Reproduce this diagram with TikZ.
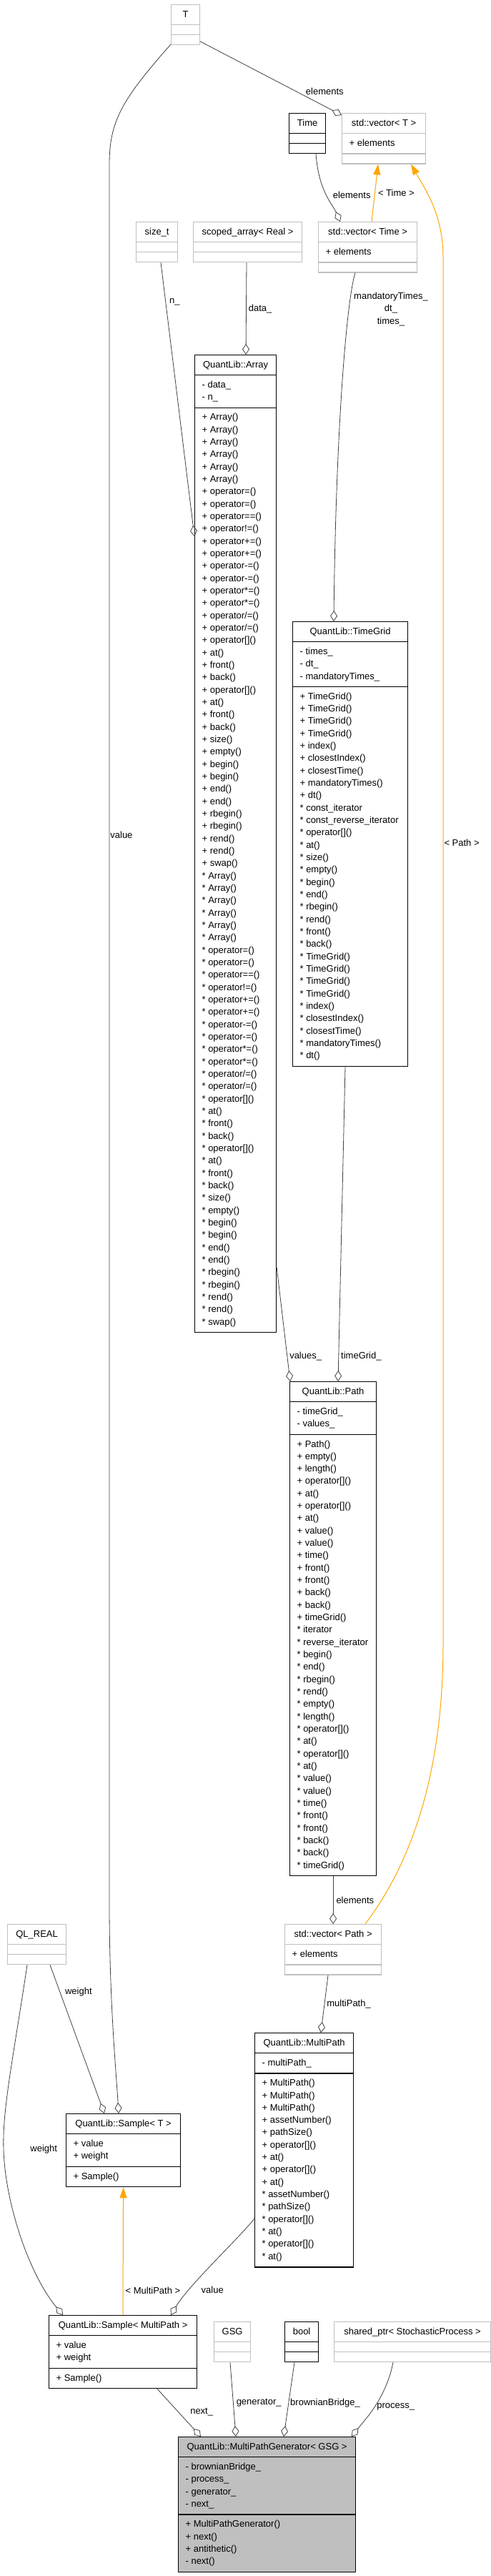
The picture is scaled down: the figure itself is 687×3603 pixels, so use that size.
\documentclass[tikz,border=0pt]{standalone}
\usepackage{fontspec}
\newfontfamily\dxfont{Liberation Sans}
\usetikzlibrary{positioning,calc,shapes.multipart,arrows.meta}
\definecolor{boxgray}{HTML}{BFBFBF}
\definecolor{linegray}{HTML}{404040}
\definecolor{genfill}{HTML}{BFBFBF}
\definecolor{tmplorange}{HTML}{FFA500}
\newcommand{\dxtext}{\dxfont\fontsize{13pt}{17.33pt}\selectfont}
\newcommand{\rows}[1]{\begin{tabular}{@{}l@{}}#1\end{tabular}}
\tikzset{
  cls/.style={rectangle split, rectangle split parts=3, draw, line width=1.2pt,
    rectangle split part align={center,left,left}, inner xsep=10pt, inner ysep=4.85pt,
    anchor=north west, font=\dxtext, minimum width=#1},
  ext/.style={cls=#1, draw=boxgray},
  doc/.style={cls=#1, draw=black},
  gen/.style={cls=#1, draw=black, fill=genfill},
  lbl/.style={font=\dxtext, inner sep=1pt, text=black},
  member/.style={draw=linegray, line width=0.8pt, -{Diamond[open,length=15pt,width=10pt]}},
  tmpl/.style={draw=tmplorange, line width=1pt, -{Triangle[length=15pt,width=10pt]}}
}

\begin{document}
\begin{tikzpicture}[x=1pt,y=-1pt]
    \useasboundingbox (0,0) rectangle (687,3603);
    % classes
    \node[ext=40pt] (T) at (239,6) {\rows{T}\nodepart{two}\rows{}\nodepart{three}\rows{}};
    \node[doc=51pt] (Time) at (404,158) {\rows{Time}\nodepart{two}\rows{}\nodepart{three}\rows{}};
    \node[ext=117pt] (vecT) at (478,158) {\rows{std::vector< T >}\nodepart{two}\rows{+ elements}\nodepart{three}\rows{}};
    \node[ext=58pt] (sizet) at (190,310) {\rows{size\_t}\nodepart{two}\rows{}\nodepart{three}\rows{}};
    \node[ext=152pt] (scoped) at (270,310) {\rows{scoped\_array< Real >}\nodepart{two}\rows{}\nodepart{three}\rows{}};
    \node[ext=138pt] (vecTime) at (445,310) {\rows{std::vector< Time >}\nodepart{two}\rows{+ elements}\nodepart{three}\rows{}};
    \node[doc=114pt] (array) at (272,496) {\rows{QuantLib::Array}\nodepart{two}\rows{- data\_\\- n\_}\nodepart{three}\rows{%
        + Array()\\+ Array()\\+ Array()\\+ Array()\\+ Array()\\+ Array()\\
        + operator=()\\+ operator=()\\+ operator==()\\+ operator!=()\\
        + operator+=()\\+ operator+=()\\+ operator-=()\\+ operator-=()\\
        + operator*=()\\+ operator*=()\\+ operator/=()\\+ operator/=()\\
        + operator[]()\\+ at()\\+ front()\\+ back()\\
        + operator[]()\\+ at()\\+ front()\\+ back()\\
        + size()\\+ empty()\\+ begin()\\+ begin()\\+ end()\\+ end()\\
        + rbegin()\\+ rbegin()\\+ rend()\\+ rend()\\+ swap()\\
        {}* Array()\\{}* Array()\\{}* Array()\\{}* Array()\\{}* Array()\\{}* Array()\\
        {}* operator=()\\{}* operator=()\\{}* operator==()\\{}* operator!=()\\
        {}* operator+=()\\{}* operator+=()\\{}* operator-=()\\{}* operator-=()\\
        {}* operator*=()\\{}* operator*=()\\{}* operator/=()\\{}* operator/=()\\
        {}* operator[]()\\{}* at()\\{}* front()\\{}* back()\\
        {}* operator[]()\\{}* at()\\{}* front()\\{}* back()\\
        {}* size()\\{}* empty()\\{}* begin()\\{}* begin()\\{}* end()\\{}* end()\\
        {}* rbegin()\\{}* rbegin()\\{}* rend()\\{}* rend()\\{}* swap()}};
    \node[doc=161pt] (timegrid) at (409,869) {\rows{QuantLib::TimeGrid}\nodepart{two}\rows{- times\_\\- dt\_\\- mandatoryTimes\_}\nodepart{three}\rows{%
        + TimeGrid()\\+ TimeGrid()\\+ TimeGrid()\\+ TimeGrid()\\
        + index()\\+ closestIndex()\\+ closestTime()\\+ mandatoryTimes()\\+ dt()\\
        {}* const\_iterator\\{}* const\_reverse\_iterator\\{}* operator[]()\\{}* at()\\
        {}* size()\\{}* empty()\\{}* begin()\\{}* end()\\{}* rbegin()\\{}* rend()\\
        {}* front()\\{}* back()\\
        {}* TimeGrid()\\{}* TimeGrid()\\{}* TimeGrid()\\{}* TimeGrid()\\
        {}* index()\\{}* closestIndex()\\{}* closestTime()\\{}* mandatoryTimes()\\{}* dt()}};
    \node[doc=121pt] (qlpath) at (405,1932) {\rows{QuantLib::Path}\nodepart{two}\rows{- timeGrid\_\\- values\_}\nodepart{three}\rows{%
        + Path()\\+ empty()\\+ length()\\+ operator[]()\\+ at()\\+ operator[]()\\+ at()\\
        + value()\\+ value()\\+ time()\\+ front()\\+ front()\\+ back()\\+ back()\\+ timeGrid()\\
        {}* iterator\\{}* reverse\_iterator\\{}* begin()\\{}* end()\\{}* rbegin()\\{}* rend()\\
        {}* empty()\\{}* length()\\{}* operator[]()\\{}* at()\\{}* operator[]()\\{}* at()\\
        {}* value()\\{}* value()\\{}* time()\\{}* front()\\{}* front()\\{}* back()\\{}* back()\\{}* timeGrid()}};
    \node[ext=135pt] (vecPath) at (398,2691) {\rows{std::vector< Path >}\nodepart{two}\rows{+ elements}\nodepart{three}\rows{}};
    \node[ext=82pt] (qlreal) at (10,2691) {\rows{QL\_REAL}\nodepart{two}\rows{}\nodepart{three}\rows{}};
    \node[doc=138pt] (multipath) at (356,2843) {\rows{QuantLib::MultiPath}\nodepart{two}\rows{- multiPath\_}\nodepart{three}\rows{%
        + MultiPath()\\+ MultiPath()\\+ MultiPath()\\+ assetNumber()\\+ pathSize()\\
        + operator[]()\\+ at()\\+ operator[]()\\+ at()\\
        {}* assetNumber()\\{}* pathSize()\\{}* operator[]()\\{}* at()\\{}* operator[]()\\{}* at()}};
    \node[doc=160pt] (sampleT) at (92,2956) {\rows{QuantLib::Sample< T >}\nodepart{two}\rows{+ value\\+ weight}\nodepart{three}\rows{+ Sample()}};
    \node[doc=207pt] (sampleMP) at (68,3238) {\rows{QuantLib::Sample< MultiPath >}\nodepart{two}\rows{+ value\\+ weight}\nodepart{three}\rows{+ Sample()}};
    \node[ext=51pt] (gsg) at (299,3247) {\rows{GSG}\nodepart{two}\rows{}\nodepart{three}\rows{}};
    \node[doc=47pt] (bool) at (398,3247) {\rows{bool}\nodepart{two}\rows{}\nodepart{three}\rows{}};
    \node[ext=219pt] (sharedptr) at (467,3247) {\rows{shared\_ptr< StochasticProcess >}\nodepart{two}\rows{}\nodepart{three}\rows{}};
    \node[gen=248pt] (mpg) at (249,3408) {\rows{QuantLib::MultiPathGenerator< GSG >}\nodepart{two}\rows{- brownianBridge\_\\- process\_\\- generator\_\\- next\_}\nodepart{three}\rows{+ MultiPathGenerator()\\+ next()\\+ antithetic()\\- next()}};

    % members
    \draw[member] ($(T.north east)+(0,52)$) -- node[lbl, pos=0.74, anchor=south west]{elements} ($(vecT.north west)+(0,3)$);
    \draw[member] ($(T.north west)+(0,56)$) .. controls (170,140) and (153,170) .. (153,230)
        -- node[lbl, pos=0.386, anchor=west]{value} (153,2660)
        .. controls (153,2800) and (162,2890) .. ($(sampleT.north west)+(74,0)$);
    \draw[member] ($(Time.south west)+(38,0)$) .. controls (446,268) and (465,285) .. node[lbl, pos=0.5, anchor=west, xshift=8pt]{elements} ($(vecTime.north west)+(31,0)$);
    \draw[member] ($(sizet.south west)+(35,0)$) -- node[lbl, pos=0.143, anchor=west, xshift=4pt]{n\_} ($(array.north west)+(0,254)$);
    \draw[member] ($(scoped.south west)+(75,0)$) -- node[lbl, pos=0.5, anchor=west, xshift=2pt]{data\_} ($(array.north west)+(72,0)$);
    \draw[member] ($(vecTime.south west)+(52,0)$) node[lbl, align=center, xshift=50pt, yshift=-51pt]{mandatoryTimes\_\\dt\_\\times\_}
        .. controls (485,420) and (470,600) .. ($(timegrid.north west)+(58,0)$);
    \draw[member] ($(array.north east)+(0,1277)$) -- node[lbl, pos=0.78, anchor=west, xshift=2pt]{values\_} ($(qlpath.north west)+(1,0)$);
    \draw[member] ($(timegrid.south west)+(74,0)$) -- node[lbl, pos=0.92, anchor=west, xshift=2pt]{timeGrid\_} ($(qlpath.north west)+(68,0)$);
    \draw[member] (qlpath.south) -- node[lbl, pos=0.5, anchor=west, xshift=3pt]{elements} (vecPath.north);
    \draw[member] ($(vecPath.south west)+(61,0)$) -- node[lbl, pos=0.5, anchor=west, xshift=2pt]{multiPath\_} ($(multipath.north west)+(93,0)$);
    \draw[member] ($(qlreal.south west)+(60,0)$) -- node[lbl, pos=0.18, anchor=west, xshift=6pt]{weight} ($(sampleT.north west)+(54,0)$);
    \draw[member] ($(qlreal.south west)+(28,0)$) .. controls (20,2870) and (3,2950) .. (5,3006) node[lbl, anchor=west, xshift=36pt]{weight}
        .. controls (7,3080) and (40,3180) .. ($(sampleMP.north west)+(20,0)$);
    \draw[member] ($(multipath.north west)+(0,260)$) .. controls (335,3130) and (265,3195) .. node[lbl, pos=0.75, anchor=west, xshift=15pt]{value} ($(sampleMP.north west)+(171,0)$);
    \draw[member] ($(sampleMP.south west)+(152,0)$) -- node[lbl, pos=0.49, anchor=west, xshift=15pt]{next\_} ($(mpg.north west)+(32,0)$);
    \draw[member] ($(gsg.south west)+(23,0)$) -- node[lbl, pos=0.545, anchor=west, xshift=3pt]{generator\_} ($(mpg.north west)+(81,0)$);
    \draw[member] ($(bool.south west)+(14,0)$) -- node[lbl, pos=0.545, anchor=west, xshift=1pt]{brownianBridge\_} ($(mpg.north west)+(148,0)$);
    \draw[member] ($(sharedptr.south west)+(83,0)$) .. controls (540,3355) and (510,3385) .. node[lbl, pos=0.5, anchor=west, xshift=2pt]{process\_} ($(mpg.north west)+(243,0)$);

    % template instances
    \draw[tmpl] ($(vecTime.north west)+(75,0)$) -- node[lbl, pos=0.5, anchor=west, xshift=3pt]{< Time >} ($(vecT.south west)+(51,0)$);
    \draw[tmpl] ($(vecPath.north west)+(113,0)$) .. controls (565,2620) and (620,2500) .. (620,2300)
        -- node[lbl, pos=0.578, anchor=west]{< Path >} (620,360)
        .. controls (620,300) and (595,265) .. ($(vecT.south west)+(97,0)$);
    \draw[tmpl] ($(sampleMP.north west)+(104,0)$) -- node[lbl, pos=0.19, anchor=west, xshift=2pt]{< MultiPath >} (sampleT.south);
\end{tikzpicture}
\end{document}
